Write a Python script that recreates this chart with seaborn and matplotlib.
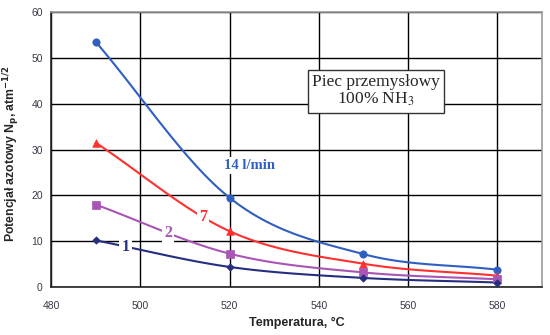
import numpy as np
import pandas as pd
import matplotlib
matplotlib.use("Agg")
import matplotlib.pyplot as plt
import seaborn as sns

temps = [490, 520, 550, 580]
flow_labels = ["14 l/min", "7", "2", "1"]
np_14 = [53.5, 19.5, 7.2, 3.8]
np_7 = [31.5, 12.2, 5.1, 2.5]
np_2 = [18.0, 7.3, 3.2, 1.7]
np_1 = [10.2, 4.4, 2.0, 1.0]
x_ticks = [480, 500, 520, 540, 560, 580]
y_ticks = [0, 10, 20, 30, 40, 50, 60]

series = [np_14, np_7, np_2, np_1]
colors = ["#2F5FC0", "#FF3030", "#A855B5", "#262E80"]
markers = ["o", "^", "s", "D"]
msizes = [28, 30, 30, 14]
# label x positions (data units); y for 14 given explicitly (off the line)
label_x = [524.5, 514.1, 506.2, 496.7]
label_y_fixed = [26.6, None, None, None]
label_sizes = [10.5, 11.5, 11.5, 11.5]

sns.set_style("white")
plt.rcParams["font.family"] = ["Liberation Sans", "DejaVu Sans"]

fig = plt.figure(figsize=(5.5, 3.35), dpi=100)
ax = fig.add_axes([0.093, 0.143, 0.892, 0.821])


def smooth(xs, ys, n=40):
    xs = np.asarray(xs, float)
    ys = np.asarray(ys, float)
    P = np.column_stack([xs, ys])
    P = np.vstack([2 * P[0] - P[1], P, 2 * P[-1] - P[-2]])
    out = []
    for i in range(1, len(P) - 2):
        p0, p1, p2, p3 = P[i - 1], P[i], P[i + 1], P[i + 2]
        t = np.linspace(0, 1, n)[:, None]
        pts = 0.5 * ((2 * p1) + (-p0 + p2) * t + (2 * p0 - 5 * p1 + 4 * p2 - p3) * t ** 2
                     + (-p0 + 3 * p1 - 3 * p2 + p3) * t ** 3)
        out.append(pts if i == len(P) - 3 else pts[:-1])
    pts = np.vstack(out)
    return pts[:, 0], pts[:, 1]


for vals, col, mk, ms, lab, lx, ly, fs in zip(series, colors, markers, msizes, flow_labels,
                                               label_x, label_y_fixed, label_sizes):
    sx, sy = smooth(temps, vals)
    df_line = pd.DataFrame({"T": sx, "N": sy})
    sns.lineplot(data=df_line, x="T", y="N", ax=ax, color=col, lw=1.5, sort=False, zorder=3)
    df_pts = pd.DataFrame({"T": temps, "N": vals})
    sns.scatterplot(data=df_pts, x="T", y="N", ax=ax, color=col, marker=mk, s=ms,
                    edgecolor=col, linewidth=0.5, zorder=4)
    if ly is None:
        ly = float(np.interp(lx, sx, sy))
    ax.text(lx, ly, lab, color=col, fontsize=fs, fontweight="bold",
            family=["Liberation Serif"], ha="center", va="center", zorder=5,
            bbox=dict(facecolor="white", edgecolor="none", pad=1.5))

ax.set_xlim(480, 590)
ax.set_ylim(0, 60)
ax.set_xticks(x_ticks)
ax.set_yticks(y_ticks)
ax.grid(True, color="black", lw=1.0, zorder=0)
ax.set_axisbelow(True)
ax.tick_params(axis="both", labelsize=7.5, colors="#3a3a4a", length=4, width=1,
               direction="out", pad=2)
ax.tick_params(axis="x", pad=6)
for s in ["left", "bottom"]:
    ax.spines[s].set_color("#222222")
    ax.spines[s].set_linewidth(1.2)
for s in ["top", "right"]:
    ax.spines[s].set_color("#999999")
    ax.spines[s].set_linewidth(1.2)

ax.set_xlabel("Temperatura, °C", fontsize=9, fontweight="bold", labelpad=4)
ax.set_ylabel("Potencjał azotowy N$_\\mathbf{p}$, atm$^{\\mathbf{-1/2}}$", fontsize=8.8,
              fontweight="bold")
ax.yaxis.set_label_coords(-0.060, 0.484)

ax.text(0.662, 0.713, "Piec przemysłowy\n100% NH$_3$", transform=ax.transAxes,
        ha="center", va="center", fontsize=12.5, family=["Liberation Serif"],
        math_fontfamily="stix", linespacing=1.1,
        bbox=dict(facecolor="white", edgecolor="#333333", lw=1.0, boxstyle="square,pad=0.25"),
        zorder=6)

fig.savefig("out.png", dpi=100)
